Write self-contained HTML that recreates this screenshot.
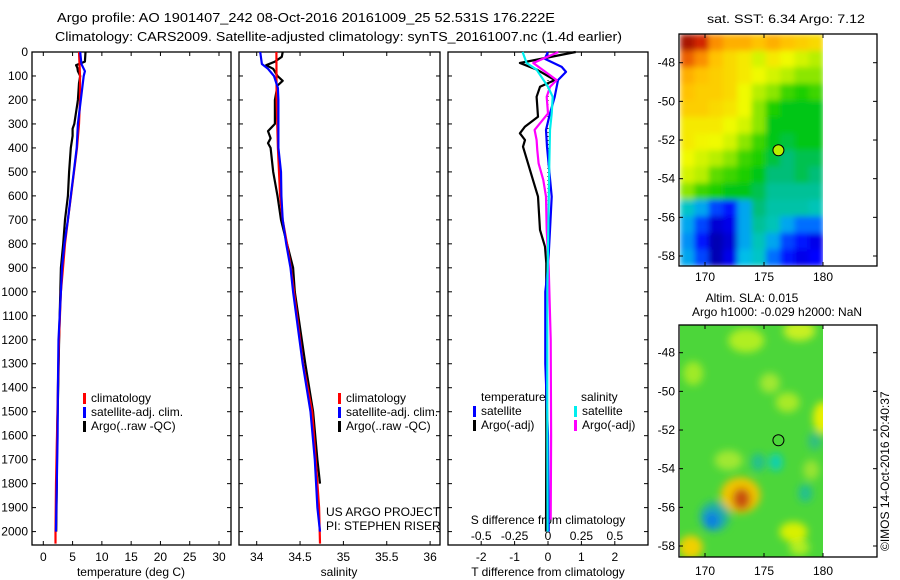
<!DOCTYPE html>
<html><head><meta charset="utf-8">
<style>
html,body{margin:0;padding:0;background:#fff;}
svg{display:block;font-family:"Liberation Sans",sans-serif;}
text{fill:#000;}
</style></head>
<body>
<svg id="fig" width="900" height="580" viewBox="0 0 900 580">
<text x="57" y="22" font-size="13" textLength="498" lengthAdjust="spacingAndGlyphs">Argo profile: AO 1901407_242 08-Oct-2016 20161009_25 52.531S 176.222E</text>
<text x="55" y="41" font-size="13" textLength="567" lengthAdjust="spacingAndGlyphs">Climatology: CARS2009. Satellite-adjusted climatology: synTS_20161007.nc (1.4d earlier)</text>
<text x="707" y="23" font-size="12" textLength="158" lengthAdjust="spacingAndGlyphs">sat. SST: 6.34  Argo: 7.12</text>
<text x="752" y="302" font-size="12" text-anchor="middle">Altim. SLA: 0.015</text>
<text x="777" y="316" font-size="12" text-anchor="middle">Argo h1000: -0.029 h2000: NaN</text>
<text transform="translate(889,551) rotate(-90)" font-size="12">©IMOS 14-Oct-2016 20:40:37</text>
<g id="g"></g>
</svg>
<script>
// ---- data ----
const depthTicks=[0,100,200,300,400,500,600,700,800,900,1000,1100,1200,1300,1400,1500,1600,1700,1800,1900,2000];
const tempTicks=[0,5,10,15,20,25,30];
const salTicks=[34,34.5,35,35.5,36];
const tdiffTicks=[-2,-1,0,1,2];
const sdiffTicks=[-0.5,-0.25,0,0.25,0.5];
const sdiffLabels=["-0.5","-0.25","0","0.25","0.5"];

const climTDepth=[0,100,200,300,400,500,600,700,800,900,1000,1200,1400,1600,1800,2000,2050];
const climT=[6.1,6.27,6.27,6.1,5.75,5.24,4.73,4.2,3.7,3.36,3.0,2.68,2.5,2.34,2.17,2.08,2.08];
const satTDepth=[0,50,80,100,200,300,400,500,600,700,800,900,1000,1200,1400,1600,1800,2000];
const satT=[6.3,6.5,7.1,6.9,6.4,5.9,5.7,5.2,4.7,4.2,3.6,3.2,3.0,2.6,2.5,2.45,2.3,2.15];
const argoTDepth=[0,40,55,65,80,100,130,200,300,320,350,400,500,600,700,800,900,1000,1200,1400,1600,1800,2000];
const argoT=[7.2,7.1,5.6,5.8,5.9,6.3,6.1,5.9,5.3,5.0,5.0,4.7,4.4,4.2,3.7,3.4,3.0,2.9,2.7,2.55,2.35,2.3,2.2];

const climSDepth=[0,200,400,500,600,700,800,900,1000,1300,1500,1700,1900,2050];
const climS=[34.227,34.23,34.245,34.257,34.27,34.3,34.35,34.395,34.43,34.535,34.64,34.68,34.72,34.73];
const satSDepth=[0,50,70,100,150,200,400,500,600,700,800,900,1000,1300,1500,1700,1900,2000];
const satS=[34.04,34.06,34.13,34.2,34.245,34.25,34.25,34.28,34.285,34.3,34.34,34.39,34.42,34.53,34.62,34.67,34.7,34.73];
const argoSDepth=[0,20,40,55,70,100,120,140,200,300,330,360,380,400,500,600,700,800,900,1000,1300,1500,1700,1800];
const argoS=[34.3,34.29,34.21,34.11,34.19,34.24,34.3,34.24,34.21,34.21,34.13,34.16,34.13,34.16,34.19,34.24,34.28,34.35,34.42,34.44,34.56,34.65,34.7,34.73];

const dTArgoDepth=[0,46,74,117,145,187,270,311,339,367,395,464,534,603,742,812,881,1200,1600,2000];
const dTArgo=[0.83,-0.84,-0.33,0.2,-0.24,-0.34,-0.3,-0.69,-0.84,-0.69,-0.75,-0.6,-0.45,-0.3,-0.24,-0.09,-0.05,-0.06,-0.05,-0.06];
const dTSatDepth=[0,28,62,83,117,187,256,325,395,603,742,900,1000,1300,1600,2000];
const dTSat=[0.0,-0.1,0.41,0.54,0.3,0.2,0.06,-0.06,-0.03,0.11,0.06,0.0,-0.08,-0.08,0.0,0.02];
const dSArgoDepth=[0,46,117,145,187,256,325,367,410,464,534,603,742,900,1200,1600,1950];
const dSArgo=[0.078,-0.11,0.065,0.015,-0.01,0.0,-0.1,-0.085,-0.08,-0.07,-0.035,-0.015,-0.01,0.005,0.02,0.023,0.02];
const dSSatDepth=[0,46,74,145,187,256,325,464,742,1000,1500,2000];
const dSSat=[-0.19,-0.16,-0.085,0.0,0.035,0.028,0.015,0.01,0.002,-0.005,-0.005,-0.003];

// SST map cells (colormap index 0..1), rows top(north) to bottom
const sstGrid=[
[0.95,0.9,0.8,0.75,0.75,0.72,0.75,0.72,0.7,0.68],
[0.85,0.8,0.72,0.68,0.65,0.6,0.65,0.62,0.6,0.58],
[0.75,0.72,0.7,0.68,0.65,0.62,0.6,0.58,0.55,0.55],
[0.72,0.7,0.7,0.68,0.62,0.58,0.55,0.5,0.48,0.5],
[0.7,0.7,0.68,0.66,0.62,0.55,0.48,0.45,0.45,0.45],
[0.65,0.65,0.65,0.62,0.6,0.55,0.45,0.45,0.45,0.45],
[0.65,0.63,0.62,0.6,0.55,0.5,0.45,0.43,0.45,0.45],
[0.62,0.6,0.58,0.55,0.5,0.48,0.43,0.4,0.42,0.42],
[0.6,0.58,0.52,0.5,0.48,0.45,0.4,0.4,0.42,0.4],
[0.55,0.5,0.48,0.45,0.45,0.42,0.38,0.38,0.38,0.38],
[0.35,0.3,0.2,0.15,0.3,0.4,0.37,0.37,0.37,0.36],
[0.3,0.2,0.08,0.1,0.3,0.38,0.36,0.3,0.25,0.25],
[0.28,0.15,0.05,0.08,0.3,0.36,0.3,0.2,0.15,0.1],
[0.3,0.2,0.05,0.1,0.32,0.35,0.25,0.15,0.1,0.12]];
const latTicks=[-48,-50,-52,-54,-56,-58];
const lonTicks=[170,175,180];
const floatLon=176.222, floatLat=-52.531;

// ---- helpers ----
const NS="http://www.w3.org/2000/svg";
const G=document.getElementById('g');
function mk(tag,attrs,parent){const e=document.createElementNS(NS,tag);for(const k in attrs)e.setAttribute(k,attrs[k]);(parent||G).appendChild(e);return e;}
const Y0=52, PX100=23.98;
const yD=d=>Y0+d*PX100/100;
const panels=[
 {x0:32,x1:231,name:'temperature-panel'},
 {x0:239,x1:440,name:'salinity-panel'},
 {x0:448,x1:648,name:'difference-panel'}];
const xT=t=>43.3+t*5.857;
const xS=s=>256.7+(s-34)*86.7;
const xDT=t=>548+t*33.4;
const xDS=s=>548+s*133.6;

panels.forEach((p,i)=>{
  const r=mk('rect',{x:p.x0,y:Y0,width:p.x1-p.x0,height:545-Y0,fill:'none',stroke:'#000','stroke-width':1.3});
  
  
  depthTicks.forEach(d=>{
    mk('line',{x1:p.x0,x2:p.x0+4,y1:yD(d),y2:yD(d),stroke:'#000'});
    mk('line',{x1:p.x1,x2:p.x1-4,y1:yD(d),y2:yD(d),stroke:'#000'});
  });
});
depthTicks.forEach(d=>{
  const t=mk('text',{x:28,y:yD(d)+4,'font-size':12,'text-anchor':'end'});
  t.textContent=d;
  
  
});
function xticks(ticks,fx,labels,ly){
  ticks.forEach((v,i)=>{
    const x=fx(v);
    mk('line',{x1:x,x2:x,y1:545,y2:541,stroke:'#000'});
    mk('line',{x1:x,x2:x,y1:Y0,y2:Y0+4,stroke:'#000'});
    const t=mk('text',{x:x,y:ly,'font-size':12,'text-anchor':'middle'});
    t.textContent=labels?labels[i]:v;
    
    
  });
}
xticks(tempTicks,xT,null,561);
xticks(salTicks,xS,null,561);
xticks(tdiffTicks,xDT,null,561);
sdiffTicks.forEach((v,i)=>{
  const t=mk('text',{x:xDS(v),y:540,'font-size':12,'text-anchor':'middle'});
  t.textContent=sdiffLabels[i];
  
  
});
function label(x,y,s,name,anchor){const t=mk('text',{x:x,y:y,'font-size':12,'text-anchor':anchor||'middle'});t.textContent=s;return t;}
label(131,576,'temperature (deg C)','temperature-axis-title');
label(339,576,'salinity','salinity-axis-title');
label(548,576,'T difference from climatology','t-diff-axis-title');
label(548,524,'S difference from climatology','s-diff-axis-title');
label(326,516,'US ARGO PROJECT','project-label','start');
label(326,530,'PI: STEPHEN RISER','pi-label','start');

mk('line',{x1:548,x2:548,y1:yD(100),y2:yD(800),stroke:'#000','stroke-dasharray':'1,3'});

function series(depths,vals,fx,color,name,w){
  const pts=depths.map((d,i)=>fx(vals[i]).toFixed(1)+','+yD(d).toFixed(1)).join(' ');
  const l=mk('polyline',{points:pts,fill:'none',stroke:color,'stroke-width':w||2.2,'stroke-linejoin':'round'});
  
  
}
series(argoTDepth,argoT,xT,'#000','argo-temperature-line');
series(climTDepth,climT,xT,'#f00','climatology-temperature-line');
series(satTDepth,satT,xT,'#00f','satellite-temperature-line');
series(argoSDepth,argoS,xS,'#000','argo-salinity-line');
series(climSDepth,climS,xS,'#f00','climatology-salinity-line');
series(satSDepth,satS,xS,'#00f','satellite-salinity-line');
series(dTArgoDepth,dTArgo,xDT,'#000','t-diff-argo-line');
series(dTSatDepth,dTSat,xDT,'#00f','t-diff-satellite-line');
series(dSArgoDepth,dSArgo,xDS,'#f0f','s-diff-argo-line');
series(dSSatDepth,dSSat,xDS,'#0ee','s-diff-satellite-line');

function legItem(x,y,color,txt,name){
  const r=mk('rect',{x:x,y:y-9,width:3,height:11,fill:color});
  
  
  label(x+8,y,txt,name,'start');
}
[[83],[338]].forEach(([x],k)=>{
  legItem(x,402,'#f00','climatology','legend-climatology');
  legItem(x,416,'#00f','satellite-adj. clim.','legend-satellite-adj');
  legItem(x,430,'#000','Argo(..raw -QC)','legend-argo');
});
label(481,401,'temperature','legend-temperature-header','start');
legItem(473,415,'#00f','satellite','legend-t-satellite');
legItem(473,429,'#000','Argo(-adj)','legend-t-argo');
label(581,401,'salinity','legend-salinity-header','start');
legItem(574,415,'#0ee','satellite','legend-s-satellite');
legItem(574,429,'#f0f','Argo(-adj)','legend-s-argo');

const stops=[[0,[0,0,127]],[0.12,[0,0,255]],[0.25,[0,110,255]],[0.33,[0,200,230]],[0.4,[0,190,120]],[0.46,[0,200,0]],[0.55,[140,230,0]],[0.62,[240,250,0]],[0.72,[255,195,0]],[0.82,[250,130,0]],[0.9,[210,40,0]],[1,[128,0,0]]];
function cmap(v){for(let i=1;i<stops.length;i++){if(v<=stops[i][0]){const a=stops[i-1],b=stops[i],f=(v-a[0])/(b[0]-a[0]);return 'rgb('+a[1].map((c,j)=>Math.round(c+(b[1][j]-c)*f)).join(',')+')';}}return 'rgb(128,0,0)';}

const MX0=679,MX1=877,IMX1=823;
const xLon=lo=>705+(lo-170)*11.8;
function mapAxes(top,bot,lat48,name,lonLabelY){
  const yLat=la=>lat48+(-48-la)*19.33;
  latTicks.forEach(la=>{
    mk('line',{x1:MX0,x2:MX0+4,y1:yLat(la),y2:yLat(la),stroke:'#000'});
    mk('line',{x1:MX1,x2:MX1-4,y1:yLat(la),y2:yLat(la),stroke:'#000'});
    label(675,yLat(la)+4,String(la),name+'-lat-label','end');
  });
  lonTicks.forEach(lo=>{
    mk('line',{x1:xLon(lo),x2:xLon(lo),y1:bot,y2:bot-4,stroke:'#000'});
    mk('line',{x1:xLon(lo),x2:xLon(lo),y1:top,y2:top+4,stroke:'#000'});
    label(xLon(lo),lonLabelY,String(lo),name+'-lon-label');
  });
  const r=mk('rect',{x:MX0,y:top,width:MX1-MX0,height:bot-top,fill:'none',stroke:'#000','stroke-width':1.3});
  
  
  return yLat;
}
const T1=34,B1=266;
const rows=sstGrid.length, cols=sstGrid[0].length;
const cw=(IMX1-680)/cols, ch=(B1-T1)/rows;
const defs=mk('defs',{});
const f0=mk('filter',{id:'bs',x:'0',y:'0',width:'100%',height:'100%'},defs);
mk('feGaussianBlur',{stdDeviation:3},f0);
const cp1=mk('clipPath',{id:'cp1'},defs);
mk('rect',{x:680,y:T1,width:IMX1-680,height:B1-T1},cp1);
const sstOuter=mk('g',{'clip-path':'url(#cp1)'});
const sstG=mk('g',{filter:'url(#bs)'},sstOuter);


sstGrid.forEach((row,r)=>row.forEach((v,c)=>{
  mk('rect',{x:(680+c*cw).toFixed(2),y:(T1+r*ch).toFixed(2),width:(cw+0.6).toFixed(2),height:(ch+0.6).toFixed(2),fill:cmap(v)},sstG);
}));
const yLat1=mapAxes(T1,B1,62.7,'sst-map',281);
const c1=mk('circle',{cx:xLon(floatLon),cy:yLat1(floatLat),r:5.5,fill:'#b8f000',stroke:'#000','stroke-width':1});



const T2=325,B2=557;
const f=mk('filter',{id:'bl',x:'-50%',y:'-50%',width:'200%',height:'200%'},defs);
mk('feGaussianBlur',{stdDeviation:4},f);
const cp=mk('clipPath',{id:'cp2'},defs);
mk('rect',{x:680,y:T2,width:IMX1-680,height:B2-T2},cp);
const slaG=mk('g',{'clip-path':'url(#cp2)'});


mk('rect',{x:680,y:T2,width:IMX1-680,height:B2-T2,fill:'#4cd63a'},slaG);
const blobG=mk('g',{filter:'url(#bl)'},slaG);
const slaBlobs=[
 [173.5,-47.3,18,12,'#b0ee20'],[178,-46.8,16,10,'#c8f020'],[169,-49,10,12,'#a0ea28'],
 [175.5,-49.5,10,10,'#a0e830'],[180,-51.3,10,16,'#e8f000'],[172,-53.5,14,10,'#a0e830'],
 [177,-50.5,12,10,'#a8ea28'],[179,-54,8,10,'#98e430'],[178,-58,10,8,'#b0ee20'],
 [173,-55.3,20,18,'#f0c400'],[173.1,-55.5,9,11,'#c85010'],[170.8,-56.4,15,15,'#20b0a0'],
 [170.6,-56.6,8,9,'#1080e0'],[168.8,-58,12,12,'#f0d000'],[177.5,-57.2,14,10,'#d8f000'],
 [174.5,-53.6,7,9,'#20c090'],[176,-53.6,7,9,'#10d0b0'],[178.5,-55.2,7,9,'#20c090'],[179.3,-52.5,7,9,'#30c080']];
slaBlobs.forEach(b=>mk('ellipse',{cx:xLon(b[0]),cy:354+(-48-b[1])*19.33,rx:b[2],ry:b[3],fill:b[4]},blobG));
const yLat2=mapAxes(T2,B2,352.7,'sla-map',575);
const c2=mk('circle',{cx:xLon(floatLon),cy:yLat2(floatLat),r:5.5,fill:'none',stroke:'#000','stroke-width':1});


</script>
</body></html>
